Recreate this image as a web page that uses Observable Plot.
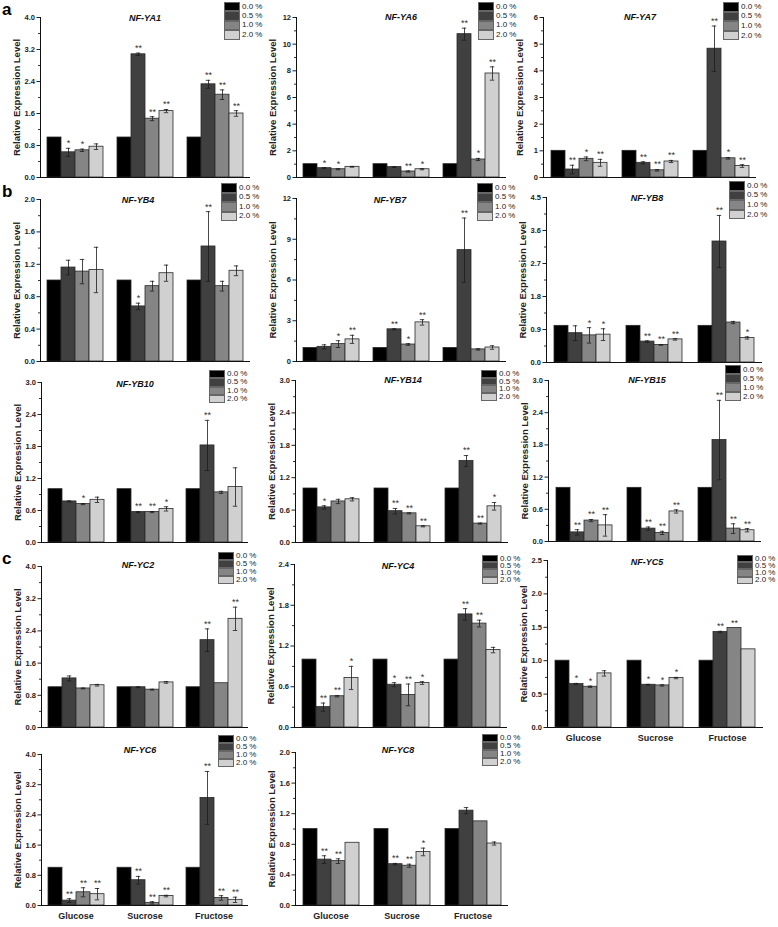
<!DOCTYPE html>
<html><head><meta charset="utf-8">
<script src="https://cdn.jsdelivr.net/npm/d3@7"></script>
<script src="https://cdn.jsdelivr.net/npm/@observablehq/plot@0.6"></script>
<style>
body{margin:0;background:#fff;font-family:"Liberation Sans",Arial,sans-serif;-webkit-font-smoothing:antialiased;}
#fig{position:relative;width:778px;height:927px;overflow:hidden;background:#fff;}
.panel{position:absolute;}
.legend{position:absolute;font-size:8px;color:#222;line-height:1;}
.legend .row{display:flex;align-items:center;}
.legend .sw{width:16px;box-sizing:border-box;border:1px solid #666;margin-right:2px;}
.letter{position:absolute;font-weight:bold;font-size:17px;line-height:1;}
.title{position:absolute;font:italic bold 9px "Liberation Sans",Arial,sans-serif;transform:translate(-50%,-50%);white-space:nowrap;color:#111;}
</style></head>
<body><div id="fig"></div>
<script>
// ---------- data ----------
const sugars = ["Glucose", "Sucrose", "Fructose"];
const concentrations = ["0.0 %", "0.5 %", "1.0 %", "2.0 %"];
const barColors = ["#000000", "#404040", "#858585", "#d0d0d0"];
const genes = ["NF-YA1","NF-YA6","NF-YA7","NF-YB4","NF-YB7","NF-YB8","NF-YB10","NF-YB14","NF-YB15","NF-YC2","NF-YC4","NF-YC5","NF-YC6","NF-YC8"];

// values ordered Glucose(0.0,0.5,1.0,2.0), Sucrose(...), Fructose(...)
const YA1_mean = [1,0.63,0.68,0.77, 1,3.08,1.47,1.66, 1,2.33,2.07,1.6];
const YA1_err  = [0,0.1,0.03,0.07, 0,0.03,0.05,0.04, 0,0.1,0.12,0.07];
const YA1_sig  = ["","*","*","", "","**","**","**", "","**","**","**"];

const YA6_mean = [1,0.7,0.62,0.8, 1,0.78,0.45,0.62, 1,10.75,1.35,7.8];
const YA6_err  = [0,0.04,0.04,0.03, 0,0.03,0.04,0.04, 0,0.45,0.08,0.5];
const YA6_sig  = ["","*","*","", "","","**","*", "","**","*","**"];

const YA7_mean = [1,0.3,0.7,0.55, 1,0.55,0.27,0.6, 1,4.83,0.72,0.43];
const YA7_err  = [0,0.16,0.07,0.13, 0,0.04,0.03,0.04, 0,0.85,0.03,0.05];
const YA7_sig  = ["","**","*","**", "","**","**","**", "","**","*","**"];

const YB4_mean = [1,1.16,1.11,1.13, 1,0.68,0.93,1.09, 1,1.42,0.93,1.12];
const YB4_err  = [0,0.09,0.15,0.28, 0,0.04,0.06,0.1, 0,0.43,0.06,0.06];
const YB4_sig  = ["","","","", "","*","","", "","**","",""];

const YB7_mean = [1,1.08,1.28,1.63, 1,2.37,1.25,2.88, 1,8.2,0.89,1.03];
const YB7_err  = [0,0.15,0.25,0.3, 0,0.04,0.06,0.2, 0,2.36,0.05,0.13];
const YB7_sig  = ["","","*","**", "","**","*","**", "","**","",""];

const YB8_mean = [1,0.8,0.74,0.76, 1,0.57,0.48,0.63, 1,3.3,1.09,0.67];
const YB8_err  = [0,0.2,0.21,0.16, 0,0.02,0.01,0.02, 0,0.71,0.03,0.03];
const YB8_sig  = ["","","*","*", "","**","**","**", "","**","","*"];

const YB10_mean = [1,0.77,0.72,0.8, 1,0.57,0.57,0.63, 1,1.82,0.94,1.04];
const YB10_err  = [0,0.01,0.01,0.05, 0,0.01,0.01,0.04, 0,0.47,0.02,0.36];
const YB10_sig  = ["","","*","", "","**","**","*", "","**","",""];

const YB14_mean = [1,0.65,0.76,0.8, 1,0.58,0.54,0.3, 1,1.51,0.35,0.67];
const YB14_err  = [0,0.03,0.04,0.03, 0,0.05,0.01,0.01, 0,0.1,0.01,0.07];
const YB14_sig  = ["","*","","", "","**","**","**", "","**","**","*"];

const YB15_mean = [1,0.17,0.39,0.3, 1,0.24,0.16,0.56, 1,1.89,0.24,0.21];
const YB15_err  = [0,0.05,0.02,0.2, 0,0.03,0.03,0.03, 0,0.74,0.09,0.03];
const YB15_sig  = ["","**","**","**", "","**","**","**", "","**","**","**"];

const YC2_mean = [1,1.22,0.97,1.05, 1,1.0,0.94,1.12, 1,2.17,1.1,2.7];
const YC2_err  = [0,0.06,0.01,0.02, 0,0.01,0.01,0.02, 0,0.28,0,0.29];
const YC2_sig  = ["","","","", "","","","", "","**","","**"];

const YC4_mean = [1,0.3,0.46,0.73, 1,0.63,0.48,0.655, 1,1.665,1.53,1.14];
const YC4_err  = [0,0.06,0.01,0.17, 0,0.03,0.16,0.02, 0,0.085,0.05,0.04];
const YC4_sig  = ["","**","**","*", "","*","**","*", "","**","**",""];

const YC5_mean = [1,0.65,0.61,0.81, 1,0.64,0.63,0.74, 1,1.43,1.49,1.17];
const YC5_err  = [0,0.01,0.01,0.04, 0,0.005,0.01,0.01, 0,0.01,0,0];
const YC5_sig  = ["","*","*","", "","*","*","*", "","**","**",""];

const YC6_mean = [1,0.13,0.35,0.3, 1,0.67,0.07,0.25, 1,2.85,0.2,0.15];
const YC6_err  = [0,0.05,0.12,0.15, 0,0.1,0.03,0.02, 0,0.7,0.06,0.07];
const YC6_sig  = ["","**","**","**", "","**","**","**", "","**","**","**"];

const YC8_mean = [1,0.6,0.58,0.82, 1,0.54,0.52,0.7, 1,1.24,1.1,0.81];
const YC8_err  = [0,0.05,0.03,0, 0,0.01,0.02,0.05, 0,0.04,0,0.02];
const YC8_sig  = ["","**","**","", "","**","**","*", "","","",""];

// y tick labels (major) per gene
const YA1_ticks = [0,0.8,1.6,2.4,3.2,4.0];
const YA6_ticks = [0,2,4,6,8,10,12];
const YA7_ticks = [0,1,2,3,4,5,6];
const YB4_ticks = [0,0.4,0.8,1.2,1.6,2.0];
const YB7_ticks = [0,3,6,9,12];
const YB8_ticks = [0,0.9,1.8,2.7,3.6,4.5];
const YB10_ticks = [0,0.6,1.2,1.8,2.4,3.0];
const YB14_ticks = [0,0.6,1.2,1.8,2.4,3.0];
const YB15_ticks = [0,0.6,1.2,1.8,2.4,3.0];
const YC2_ticks = [0,0.8,1.6,2.4,3.2,4.0];
const YC4_ticks = [0,0.6,1.2,1.8,2.4];
const YC5_ticks = [0,0.5,1.0,1.5,2.0,2.5];
const YC6_ticks = [0,0.8,1.6,2.4,3.2,4.0];
const YC8_ticks = [0,0.4,0.8,1.2,1.6,2.0];

const yLabel = "Relative Expression Level";

const series = [
  [YA1_mean,YA1_err,YA1_sig,YA1_ticks,".1f"],
  [YA6_mean,YA6_err,YA6_sig,YA6_ticks,"d"],
  [YA7_mean,YA7_err,YA7_sig,YA7_ticks,"d"],
  [YB4_mean,YB4_err,YB4_sig,YB4_ticks,".1f"],
  [YB7_mean,YB7_err,YB7_sig,YB7_ticks,"d"],
  [YB8_mean,YB8_err,YB8_sig,YB8_ticks,".1f"],
  [YB10_mean,YB10_err,YB10_sig,YB10_ticks,".1f"],
  [YB14_mean,YB14_err,YB14_sig,YB14_ticks,".1f"],
  [YB15_mean,YB15_err,YB15_sig,YB15_ticks,".1f"],
  [YC2_mean,YC2_err,YC2_sig,YC2_ticks,".1f"],
  [YC4_mean,YC4_err,YC4_sig,YC4_ticks,".1f"],
  [YC5_mean,YC5_err,YC5_sig,YC5_ticks,".1f"],
  [YC6_mean,YC6_err,YC6_sig,YC6_ticks,".1f"],
  [YC8_mean,YC8_err,YC8_sig,YC8_ticks,".1f"]
];

// ---------- layout (pixel geometry of each panel) ----------
// [axisX, rightX, topY, bottomY, xLabels, legendX, legendY, legendRowH, titleX, titleY]
const layout = [
  [40,250,17,177,false, 224,2,9.4, 145,18],
  [295,507,17,177,false, 478,2,9.4, 401,17],
  [543,756,17,177,false, 723,2,9.6, 640,17],
  [40,250,199,361,false, 221,183,9.5, 138,200],
  [295,507,198,361,false, 477,183,9.5, 390,200],
  [545,762,197,362,false, 729,181,9.6, 647,198],
  [40,249,382,542,false, 209,370,8.3, 135,384],
  [294,509,380,542,false, 481,370,7.7, 403,380],
  [548,761,380,541,false, 725,365,9.0, 647,380],
  [40,249,566,727,false, 218,552,8.0, 138,565],
  [293,508,564,727,false, 482,555,7.2, 398,566],
  [546,764,560,727,true, 737,555,7.2, 647,562],
  [40,249,754,905,true, 218,735,8.0, 140,750],
  [295,508,752,905,true, 482,734,8.0, 398,750]
];

const fig = document.getElementById("fig");
const FONT = "'Liberation Sans', Arial, sans-serif";

function minorTicks(ticks) {
  const out = [];
  for (let i = 0; i < ticks.length - 1; i++) out.push((ticks[i] + ticks[i+1]) / 2);
  return out;
}

genes.forEach((gene, gi) => {
  const [mean, err, sig, ticks, fmt] = series[gi];
  const [ax, rx, ty, by, xl, lx, ly, lrh, tx, tyy] = layout[gi];
  const data = [];
  sugars.forEach((s, i) => concentrations.forEach((c, j) => {
    const k = i * 4 + j;
    data.push({sugar: s, conc: c, v: mean[k], e: err[k], sig: sig[k]});
  }));
  const errData = data.filter(d => d.e > 0);
  const mL = 44, mR = 4, mT = 4, mB = xl ? 22 : 4;
  const w = rx - ax, h = by - ty;
  const chart = Plot.plot({
    width: w + mL + mR,
    height: h + mT + mB,
    marginLeft: mL, marginRight: mR, marginTop: mT, marginBottom: mB,
    style: {fontFamily: FONT, fontSize: "8px", fontWeight: "bold", background: "transparent", color: "#222", overflow: "visible"},
    fx: {domain: sugars, padding: 0, label: null},
    x: {domain: concentrations, paddingInner: 0, paddingOuter: 0.42, axis: null},
    y: {domain: [0, ticks[ticks.length - 1]]},
    color: {domain: concentrations, range: barColors},
    marks: [
      Plot.barY(data, {fx: "sugar", x: "conc", y: "v", fill: "conc", stroke: "#2a2a2a", strokeWidth: 0.8}),
      Plot.ruleX(errData, {fx: "sugar", x: "conc", y1: d => d.v - d.e, y2: d => d.v + d.e, stroke: "#1a1a1a", strokeWidth: 0.8}),
      Plot.tickY(errData, {fx: "sugar", x: "conc", y: d => d.v + d.e, insetLeft: 4.8, insetRight: 4.8, stroke: "#1a1a1a", strokeWidth: 0.8}),
      Plot.tickY(errData, {fx: "sugar", x: "conc", y: d => d.v - d.e, insetLeft: 4.8, insetRight: 4.8, stroke: "#1a1a1a", strokeWidth: 0.8}),
      Plot.text(data.filter(d => d.sig), {fx: "sugar", x: "conc", y: d => d.v + d.e, text: "sig", dy: -5, fontSize: 9, fontWeight: "normal", fill: "#333"}),
      Plot.ruleY([0], {stroke: "#111", strokeWidth: 1}),
      Plot.frame({anchor: "left", facetAnchor: "left", stroke: "#111", strokeWidth: 1}),
      Plot.axisY({ticks: minorTicks(ticks), tickSize: 2, tickFormat: () => "", label: null, stroke: "#333"}),
      Plot.axisY({ticks, tickSize: 3.5, tickPadding: 2, tickFormat: d3.format(fmt), fontSize: 7.5, label: null}),
      Plot.axisY({ticks: [], tickSize: 0, fontSize: 9.5,
        label: yLabel, labelAnchor: "center", labelArrow: "none", labelOffset: 27}),
      xl ? Plot.axisFx({anchor: "bottom", tickSize: 0, tickPadding: 7, label: null, fontSize: 9})
         : Plot.axisFx({anchor: "bottom", tickSize: 0, tickFormat: () => "", label: null})
    ]
  });
  chart.classList.add("panel");
  chart.style.left = (ax - mL) + "px";
  chart.style.top = (ty - mT) + "px";
  fig.appendChild(chart);

  // title
  const t = document.createElement("div");
  t.className = "title";
  t.textContent = gene;
  t.style.left = tx + "px";
  t.style.top = tyy + "px";
  fig.appendChild(t);

  // legend
  const lg = document.createElement("div");
  lg.className = "legend";
  lg.style.left = lx + "px";
  lg.style.top = ly + "px";
  concentrations.forEach((c, j) => {
    const row = document.createElement("div");
    row.className = "row";
    row.style.height = lrh + "px";
    const sw = document.createElement("div");
    sw.className = "sw";
    sw.style.height = lrh + "px";
    sw.style.background = barColors[j];
    const lab = document.createElement("span");
    lab.textContent = c;
    row.appendChild(sw); row.appendChild(lab);
    lg.appendChild(row);
  });
  fig.appendChild(lg);
});

// panel letters
[["a", 2, 1], ["b", 2, 183], ["c", 2, 550]].forEach(([s, x, y]) => {
  const d = document.createElement("div");
  d.className = "letter";
  d.textContent = s;
  d.style.left = x + "px";
  d.style.top = y + "px";
  fig.appendChild(d);
});
</script>
</body></html>
